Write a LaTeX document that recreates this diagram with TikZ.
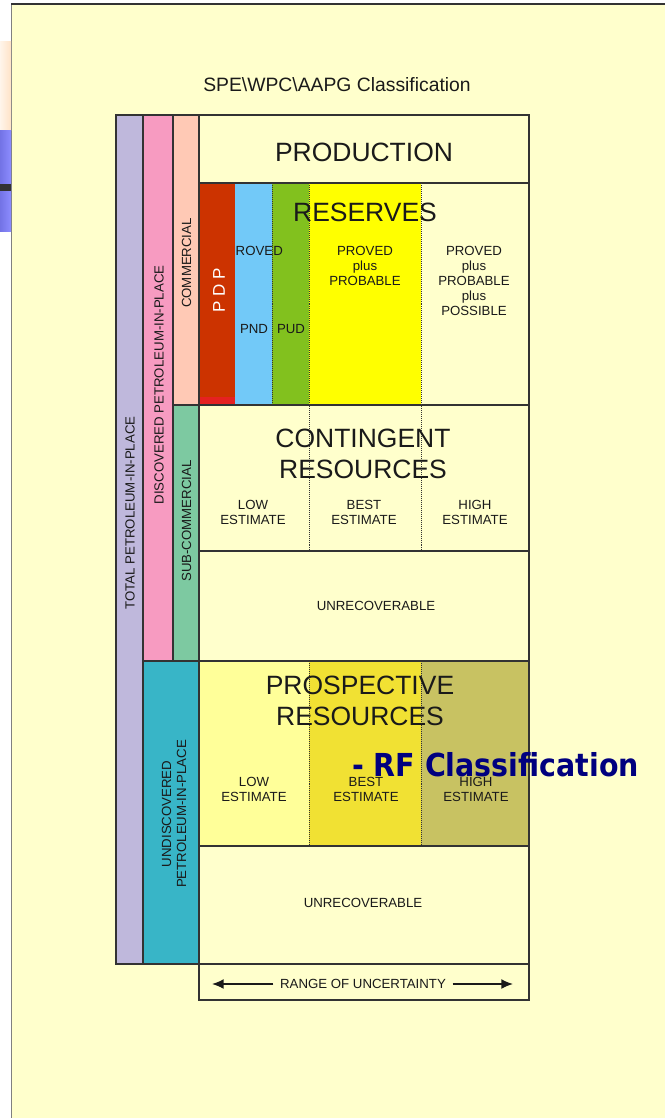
\documentclass[tikz,border=0pt]{standalone}
\usepackage{fontspec}
\setmainfont{Liberation Sans}
\newfontfamily\rffont[FakeStretch=0.9]{DejaVu Sans}
\usetikzlibrary{arrows.meta}

\definecolor{slidebg}{HTML}{FFFFCC}
\definecolor{ink}{HTML}{1A1A1A}
\definecolor{rule}{HTML}{333333}
\definecolor{lavender}{HTML}{BFB8DC}
\definecolor{pinkband}{HTML}{F79BC1}
\definecolor{peachband}{HTML}{FFC9B5}
\definecolor{subgreen}{HTML}{7DC9A1}
\definecolor{tealband}{HTML}{38B5C7}
\definecolor{pdpred}{HTML}{CC3300}
\definecolor{pdpbright}{HTML}{E52121}
\definecolor{pndblue}{HTML}{72C9F8}
\definecolor{pudgreen}{HTML}{82C11E}
\definecolor{probyellow}{HTML}{FFFF00}
\definecolor{lowyellow}{HTML}{FFFF99}
\definecolor{bestyellow}{HTML}{F1E133}
\definecolor{highyellow}{HTML}{C8C262}
\definecolor{rfnavy}{HTML}{00007F}

\tikzset{
  band/.style={draw=rule, line width=0.9pt},
  small/.style={font=\fontsize{11.3}{12.8}\selectfont, align=center, text=ink, inner sep=0pt},
  big/.style={font=\fontsize{22.6}{26.5}\selectfont, align=center, text=ink, inner sep=0pt},
  sideways/.style={small, rotate=90},
  sep/.style={draw=rule, densely dotted, line width=0.7pt},
}

\begin{document}
\begin{tikzpicture}[x=0.03cm, y=-0.03cm]
\useasboundingbox (0,0) rectangle (665,1118);
\fill[white] (0,0) rectangle (665,1118);
\fill[slidebg] (11,4) rectangle (665,1118);
\draw[gray, line width=0.8pt] (11,1118) -- (11,4);
\draw[rule, line width=1pt] (11,4) -- (665,4);

% strip at the left edge
\fill[left color=orange!8, right color=orange!22] (0,41) rectangle (11,130);
\fill[left color=blue!50!white!90!black, right color=blue!45!white] (0,130) rectangle (11,231);
\fill[rule] (0,184) rectangle (11,191);

\node[font=\fontsize{16.5}{18}\selectfont, text=ink] (title) at (337,85) {SPE\textbackslash WPC\textbackslash AAPG Classification};

% side bands
\filldraw[band, fill=lavender] (116,115) rectangle (143,964);
\filldraw[band, fill=pinkband] (143,115) rectangle (173,661);
\filldraw[band, fill=peachband] (173,115) rectangle (199,405);
\filldraw[band, fill=subgreen] (173,405) rectangle (199,661);
\filldraw[band, fill=tealband] (143,661) rectangle (199,964);

% reserves colours
\fill[pdpred] (199,183) rectangle (235,405);
\fill[pdpbright] (199,397) rectangle (235,405);
\fill[pndblue] (235,183) rectangle (272,405);
\fill[pudgreen] (272,183) rectangle (309,405);
\fill[probyellow] (309,183) rectangle (421,405);

% prospective colours
\fill[lowyellow] (199,661) rectangle (309,846);
\fill[bestyellow] (309,661) rectangle (421,846);
\fill[highyellow] (421,661) rectangle (529,846);

% dotted dividers
\draw[sep] (272,183) -- (272,405);
\draw[sep] (309,183) -- (309,551);
\draw[sep] (421,183) -- (421,551);
\draw[sep] (309,661) -- (309,846);
\draw[sep] (421,661) -- (421,846);

% main frame
\draw[band] (199,115) rectangle (529,964);
\draw[band] (199,183) -- (529,183);
\draw[band] (199,405) -- (529,405);
\draw[band] (199,551) -- (529,551);
\draw[band] (199,661) -- (529,661);
\draw[band] (199,846) -- (529,846);
\draw[band] (199,964) rectangle (529,1000);

% side labels
\node[sideways] (total) at (130,513) {TOTAL PETROLEUM-IN-PLACE};
\node[sideways] (discovered) at (159,385) {DISCOVERED PETROLEUM-IN-PLACE};
\node[sideways] (commercial) at (186.5,263) {COMMERCIAL};
\node[sideways] (subcommercial) at (186.5,521) {SUB-COMMERCIAL};
\node[sideways] (undiscovered) at (174,814) {UNDISCOVERED\\PETROLEUM-IN-PLACE};

% production and reserves
\node[big] (production) at (364,152) {PRODUCTION};
\node[big] (reserves) at (365,212) {RESERVES};
\node[font=\fontsize{14.5}{16}\selectfont, text=white, rotate=90, inner sep=0pt] (pdp) at (219,290) {P D P};
\node[small, anchor=west] (roved) at (235.5,250.5) {ROVED};
\node[small] (pnd) at (254,329) {PND};
\node[small] (pud) at (291,329) {PUD};
\node[small] (probable) at (365,266) {PROVED\\plus\\PROBABLE};
\node[small] (possible) at (474,281) {PROVED\\plus\\PROBABLE\\plus\\POSSIBLE};

% contingent resources
\node[big] (contingent) at (363,453.5) {CONTINGENT\\RESOURCES};
\node[small] (clow) at (253,512.5) {LOW\\ESTIMATE};
\node[small] (cbest) at (364,512.5) {BEST\\ESTIMATE};
\node[small] (chigh) at (475,512.5) {HIGH\\ESTIMATE};
\node[small] (cunrec) at (376,606) {UNRECOVERABLE};

% prospective resources
\node[big] (prospective) at (360,701) {PROSPECTIVE\\RESOURCES};
\node[small] (plow) at (254,789) {LOW\\ESTIMATE};
\node[small] (pbest) at (366,789) {BEST\\ESTIMATE};
\node[small] (phigh) at (476,789) {HIGH\\ESTIMATE};
\node[small] (punrec) at (363,903) {UNRECOVERABLE};

% range of uncertainty
\node[small, inner sep=5.5pt] (range) at (363,984) {RANGE OF UNCERTAINTY};
\coordinate (rleft) at (212,984);
\coordinate (rright) at (513,984);
\draw[-{Latex[length=10pt,width=8.5pt]}, line width=1.3pt, ink] (range) -- (rleft);
\draw[-{Latex[length=10pt,width=8.5pt]}, line width=1.3pt, ink] (range) -- (rright);

\node[font=\rffont\bfseries\fontsize{27}{30}\selectfont, text=rfnavy, inner sep=0pt] (rf) at (495.5,765) {- RF Classification};
\end{tikzpicture}
\end{document}
